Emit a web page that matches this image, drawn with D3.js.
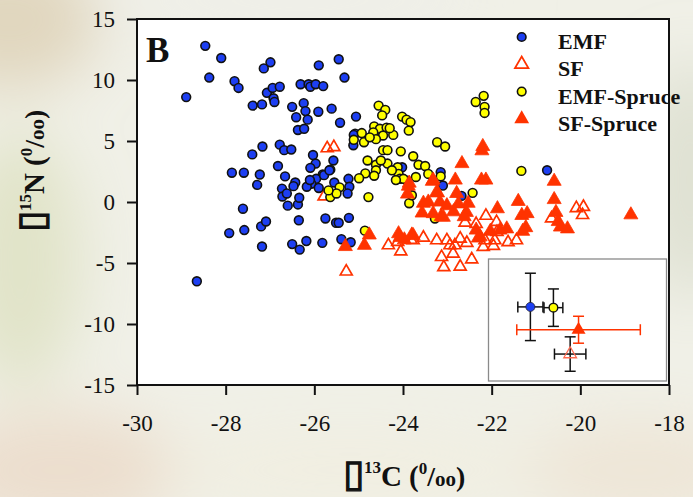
<!DOCTYPE html>
<html>
<head>
<meta charset="utf-8">
<script src="https://cdn.jsdelivr.net/npm/d3@7"></script>
<style>
  html, body { margin: 0; padding: 0; background: #eeeee3; }
  svg { display: block; }
</style>
</head>
<body>
<svg id="chart" width="693" height="497"></svg>
<script>
// Stable isotope signatures of fungal sporocarps: [δ13C, δ15N] in ‰
const emf = [
  [-28.46,12.8],[-28.10,11.8],[-28.37,10.2],[-28.89,8.6],[-27.80,9.9],[-27.71,9.35],
  [-26.99,11.45],[-27.14,10.95],[-25.90,11.2],[-25.45,11.7],[-25.32,10.2],[-27.39,7.9],
  [-27.18,8.0],[-27.07,8.95],[-26.94,9.35],[-26.78,9.45],[-26.92,8.5],[-26.90,8.2],
  [-26.31,9.65],[-26.13,9.65],[-26.09,9.45],[-25.97,9.65],[-25.80,9.5],[-26.50,7.8],
  [-26.24,8.1],[-26.20,7.45],[-26.41,6.95],[-26.15,6.75],[-26.37,5.9],[-26.23,6.0],
  [-25.91,7.4],[-25.61,7.65],[-25.42,6.5],[-25.06,7.0],[-25.08,5.6],[-25.12,4.65],
  [-27.17,4.55],[-27.40,3.9],[-26.78,4.7],[-26.68,4.25],[-26.52,4.3],[-27.86,2.4],
  [-27.59,2.4],[-27.23,2.25],[-27.29,1.4],[-26.82,2.95],[-26.66,2.1],[-26.03,3.85],
  [-25.97,3.15],[-26.09,2.8],[-25.57,3.4],[-25.64,2.65],[-25.81,2.25],[-25.96,1.9],
  [-26.07,1.5],[-26.17,1.25],[-26.43,1.6],[-26.47,1.3],[-26.73,1.1],[-25.55,1.6],
  [-25.23,1.9],[-25.21,1.25],[-25.25,0.7],[-26.72,0.45],[-26.62,0.7],[-26.60,-0.3],
  [-26.37,-0.2],[-26.34,0.35],[-27.61,-0.55],[-27.92,-2.55],[-27.58,-2.3],[-27.20,-2.0],
  [-27.09,-1.6],[-27.18,-3.65],[-28.65,-6.5],[-26.35,-1.5],[-26.50,-3.45],[-26.33,-3.9],
  [-26.18,-3.2],[-25.82,-3.35],[-25.75,-1.35],[-25.51,-1.7],[-25.45,-1.7],[-25.22,-1.3],
  [-25.39,-3.05],[-25.18,-3.3],[-25.11,5.5],[-24.02,2.85],[-23.15,2.45],[-23.10,1.35],
  [-20.75,2.6],[-22.68,0.5],[-25.78,2.2],[-25.66,2.6],[-26.10,1.8],[-25.90,1.15]
];
const sf = [
  [-25.71,4.4],[-25.56,4.5],[-25.78,0.45],[-25.28,-5.7],[-24.33,-3.55],[-24.05,-4.05],
  [-23.82,-3.1],[-23.54,-2.92],[-23.24,-3.14],[-23.01,-3.14],[-22.94,-3.55],[-22.83,-3.55],
  [-23.13,-4.51],[-23.08,-5.35],[-22.87,-4.23],[-22.71,-5.3],[-22.45,-4.7],[-22.71,-3.0],
  [-22.56,-3.35],[-22.60,-1.7],[-22.13,-1.13],[-21.89,-1.64],[-21.88,-2.46],[-22.15,-3.14],
  [-21.93,-3.14],[-22.19,-3.69],[-21.96,-3.6],[-21.63,-3.3],[-21.44,-3.14],[-20.65,-1.35],
  [-20.09,-0.5],[-19.93,-0.4],[-19.95,-1.07],[-23.77,-3.14],[-24.12,-3.28],[-22.35,-1.8]
];
const emfSpruce = [
  [-24.55,7.9],[-24.40,7.55],[-24.47,7.1],[-24.02,7.0],[-23.92,6.75],[-23.83,6.55],
  [-23.87,5.85],[-24.65,6.2],[-24.52,6.0],[-24.37,6.1],[-24.45,5.45],[-24.67,5.7],
  [-24.93,5.65],[-25.11,5.1],[-24.88,4.9],[-24.61,5.15],[-24.22,5.5],[-24.45,4.25],
  [-24.35,4.25],[-24.05,4.15],[-23.77,3.75],[-23.65,3.05],[-23.50,2.95],[-24.80,3.4],
  [-24.61,3.05],[-24.35,3.15],[-24.61,2.6],[-24.85,2.35],[-24.65,2.15],[-24.12,2.85],
  [-24.10,2.3],[-24.99,1.95],[-24.07,1.9],[-23.91,1.75],[-23.71,2.05],[-23.43,2.3],
  [-23.23,4.9],[-23.05,4.55],[-25.43,1.2],[-25.64,0.4],[-25.50,0.7],[-25.68,0.95],
  [-24.78,0.4],[-22.36,8.2],[-22.18,8.7],[-22.16,7.8],[-22.16,7.3],[-21.33,2.55],
  [-22.43,0.75],[-23.86,-0.1],[-23.80,0.55],[-23.28,-1.35],[-24.86,-2.35],[-23.15,2.1],
  [-23.99,1.9],[-24.16,1.8],[-24.30,6.05],[-24.75,5.3],[-24.50,3.4],[-24.25,2.6]
];
const sfSpruce = [
  [-25.30,-3.65],[-24.87,-3.55],[-24.76,-2.7],[-24.10,-2.6],[-23.80,-2.7],[-23.97,-3.1],
  [-24.07,-2.9],[-23.88,1.3],[-23.90,0.65],[-23.54,-0.1],[-23.57,-0.9],[-23.34,1.7],
  [-23.22,0.75],[-23.17,0.0],[-23.14,-1.2],[-23.01,-0.3],[-22.82,1.8],[-22.67,3.15],
  [-22.79,0.7],[-22.53,-0.1],[-22.57,-0.85],[-22.22,4.2],[-22.20,4.55],[-22.23,1.8],
  [-22.13,1.8],[-22.35,-2.3],[-22.30,-2.95],[-22.03,-2.4],[-21.87,-0.55],[-21.66,-2.2],
  [-21.40,0.05],[-21.32,-1.1],[-21.20,-0.95],[-21.23,-2.1],[-21.30,-2.4],[-20.59,1.7],
  [-20.59,0.2],[-20.55,-0.85],[-20.50,-1.6],[-20.45,-2.05],[-20.29,-2.2],[-18.86,-1.05],
  [-23.43,0.0],[-23.32,-0.95],[-22.86,-0.8],[-22.62,-1.2],[-23.09,-1.25],[-22.75,-0.15],
  [-23.24,0.8],[-23.32,1.8],[-23.86,1.55],[-23.77,-2.75],[-21.81,-2.3],[-22.26,-2.85]
];

const xTicks = [-30, -28, -26, -24, -22, -20, -18];
const yTicks = [-15, -10, -5, 0, 5, 10, 15];
const legendNames = ["EMF", "SF", "EMF-Spruce", "SF-Spruce"];

// Group means ± SD for the inset panel
const meanNames = ["EMF", "EMF-Spruce", "SF-Spruce", "SF"];
const meanD13C  = [-26.4, -24.2, -21.8, -22.6];
const sdD13C    = [1.2, 0.9, 5.9, 1.5];
const meanD15N  = [3.6, 3.5, 0.55, -2.7];
const sdD15N    = [4.5, 2.5, 1.8, 2.3];

const BLUE = "#1d3ff2", YELLOW = "#ffff00", RED = "#ff3300";
const SERIF = "'Liberation Serif', 'Times New Roman', serif";

const svg = d3.select("#chart");

// soft photographic backdrop
const defs = svg.append("defs");
defs.append("filter").attr("id", "soft")
  .attr("x", "-50%").attr("y", "-50%").attr("width", "200%").attr("height", "200%")
  .append("feGaussianBlur").attr("stdDeviation", 30);
svg.append("rect").attr("width", 693).attr("height", 497).attr("fill", "#f0f0e7");
const bg = svg.append("g").attr("filter", "url(#soft)");
[
  [10, 20, 90, 70, "rgba(210,190,150,0.5)"],
  [20, 260, 60, 130, "rgba(210,215,170,0.5)"],
  [60, 470, 120, 60, "rgba(230,200,175,0.45)"],
  [690, 180, 50, 120, "rgba(205,210,190,0.5)"],
  [640, 470, 120, 50, "rgba(235,215,190,0.4)"],
  [300, 0, 200, 30, "rgba(238,238,234,0.6)"],
  [350, 470, 200, 40, "rgba(242,238,220,0.5)"]
].forEach(([cx, cy, rx, ry, c]) => {
  bg.append("ellipse").attr("cx", cx).attr("cy", cy).attr("rx", rx).attr("ry", ry).attr("fill", c);
});

const x = d3.scaleLinear().domain([-30, -18]).range([137, 669]);
const y = d3.scaleLinear().domain([-15, 15]).range([385, 19]);

// plot area
svg.append("rect")
  .attr("x", x(-30)).attr("y", y(15))
  .attr("width", x(-18) - x(-30)).attr("height", y(-15) - y(15))
  .attr("fill", "#ffffff");

// axes
const xAxis = svg.append("g").attr("transform", `translate(0,${y(-15)})`)
  .call(d3.axisBottom(x).tickValues(xTicks).tickSize(10).tickSizeOuter(0).tickPadding(20)
    .tickFormat(d3.format("d")));
const yAxis = svg.append("g").attr("transform", `translate(${x(-30)},0)`)
  .call(d3.axisLeft(y).tickValues(yTicks).tickSize(10).tickSizeOuter(0).tickPadding(12)
    .tickFormat(d3.format("d")));
[xAxis, yAxis].forEach(a => {
  a.select(".domain").remove();
  a.selectAll(".tick line").attr("stroke", "#111").attr("stroke-width", 2);
  a.selectAll(".tick text").attr("font-family", SERIF).attr("font-size", 23).attr("fill", "#111");
});
xAxis.selectAll(".tick text").text(d => d < 0 ? "-" + Math.abs(d) : d);
yAxis.selectAll(".tick text").text(d => d < 0 ? "-" + Math.abs(d) : d);

const tri = d3.symbol().type(d3.symbolTriangle);

// data points
const gPts = svg.append("g");
gPts.selectAll("path.sf").data(sf).enter().append("path")
  .attr("d", tri.size(62)())
  .attr("transform", d => `translate(${x(d[0])},${y(d[1])})`)
  .attr("fill", "none").attr("stroke", RED).attr("stroke-width", 1.7);
gPts.selectAll("circle.emf").data(emf).enter().append("circle")
  .attr("cx", d => x(d[0])).attr("cy", d => y(d[1])).attr("r", 4.4)
  .attr("fill", BLUE).attr("stroke", "#111").attr("stroke-width", 1.6);
gPts.selectAll("circle.emfs").data(emfSpruce).enter().append("circle")
  .attr("cx", d => x(d[0])).attr("cy", d => y(d[1])).attr("r", 4.4)
  .attr("fill", YELLOW).attr("stroke", "#111").attr("stroke-width", 1.6);
gPts.selectAll("path.sfs").data(sfSpruce).enter().append("path")
  .attr("d", tri.size(85)())
  .attr("transform", d => `translate(${x(d[0])},${y(d[1])})`)
  .attr("fill", RED).attr("stroke", RED).attr("stroke-width", 0.8);

// panel letter
svg.append("text").attr("x", 146).attr("y", 61.5)
  .attr("font-family", SERIF).attr("font-weight", "bold").attr("font-size", 35)
  .attr("fill", "#111").text("B");

// legend
const leg = svg.append("g");
legendNames.forEach((name, i) => {
  const by = 49 + i * 27.3;
  const my = by - 12;
  if (name === "EMF" || name === "EMF-Spruce") {
    leg.append("circle").attr("cx", 521.7).attr("cy", my).attr("r", 4.3)
      .attr("fill", name === "EMF" ? BLUE : YELLOW).attr("stroke", "#111").attr("stroke-width", 1.6);
  } else if (name === "SF") {
    leg.append("path").attr("d", tri.size(80)()).attr("transform", `translate(521.7,${my})`)
      .attr("fill", "none").attr("stroke", RED).attr("stroke-width", 1.7);
  } else {
    leg.append("path").attr("d", tri.size(95)()).attr("transform", `translate(521.7,${my})`)
      .attr("fill", RED);
  }
  leg.append("text").attr("x", 558).attr("y", by)
    .attr("font-family", SERIF).attr("font-weight", "bold").attr("font-size", 22)
    .attr("fill", "#111").text(name);
});

// frame
svg.append("rect")
  .attr("x", x(-30)).attr("y", y(15))
  .attr("width", x(-18) - x(-30)).attr("height", y(-15) - y(15))
  .attr("fill", "none").attr("stroke", "#111").attr("stroke-width", 2);

// inset: means ± SD
const ix = d3.scaleLinear().domain([-30.4, -13.4]).range([488.5, 666.5]);
const iy = d3.scaleLinear().domain([-6.3, 10]).range([381, 259]);
svg.append("rect").attr("x", 488.5).attr("y", 259).attr("width", 178).attr("height", 122)
  .attr("fill", "#ffffff").attr("stroke", "#8a8a8a").attr("stroke-width", 1.3);
const gIn = svg.append("g");
const cap = 5.5;
meanNames.forEach((name, i) => {
  const cx = ix(meanD13C[i]), cy = iy(meanD15N[i]);
  const col = name === "SF-Spruce" ? RED : "#111";
  const x0 = ix(meanD13C[i] - sdD13C[i]), x1 = ix(meanD13C[i] + sdD13C[i]);
  const y0 = iy(meanD15N[i] - sdD15N[i]), y1 = iy(meanD15N[i] + sdD15N[i]);
  const segs = [
    [x0, cy, x1, cy], [x0, cy - cap, x0, cy + cap], [x1, cy - cap, x1, cy + cap],
    [cx, y0, cx, y1], [cx - cap, y0, cx + cap, y0], [cx - cap, y1, cx + cap, y1]
  ];
  segs.forEach(s => gIn.append("line")
    .attr("x1", s[0]).attr("y1", s[1]).attr("x2", s[2]).attr("y2", s[3])
    .attr("stroke", col).attr("stroke-width", 1.5));
});
meanNames.forEach((name, i) => {
  const cx = ix(meanD13C[i]), cy = iy(meanD15N[i]);
  if (name === "EMF") {
    gIn.append("circle").attr("cx", cx).attr("cy", cy).attr("r", 4.5)
      .attr("fill", BLUE).attr("stroke", "#223").attr("stroke-width", 0.8);
  } else if (name === "EMF-Spruce") {
    gIn.append("circle").attr("cx", cx).attr("cy", cy).attr("r", 4.3)
      .attr("fill", YELLOW).attr("stroke", "#111").attr("stroke-width", 1.4);
  } else if (name === "SF-Spruce") {
    gIn.append("path").attr("d", tri.size(85)()).attr("transform", `translate(${cx},${cy})`)
      .attr("fill", RED);
  } else {
    gIn.append("path").attr("d", tri.size(70)()).attr("transform", `translate(${cx},${cy})`)
      .attr("fill", "none").attr("stroke", "#ff6a50").attr("stroke-width", 1.3);
  }
});

// axis titles (the delta sign shows as a missing-glyph box)
function axisTitle(sel, mass, element) {
  sel.append("tspan").attr("font-family", "'DejaVu Sans', sans-serif").attr("font-weight", "bold")
    .attr("font-size", 38).attr("stroke", "#111").attr("stroke-width", 1.4).text("\u25AF");
  sel.append("tspan").attr("font-size", 17).attr("dy", -13).text(mass);
  sel.append("tspan").attr("font-size", 29).attr("dy", 13).text(element + " (");
  sel.append("tspan").attr("font-size", 17).attr("dy", -12).text("0");
  sel.append("tspan").attr("font-size", 28).attr("dy", 12).text("/");
  sel.append("tspan").attr("font-size", 21).text("oo");
  sel.append("tspan").attr("font-size", 28).text(")");
}
const xt = svg.append("text").attr("x", 343).attr("y", 486)
  .attr("font-family", SERIF).attr("font-weight", "bold").attr("font-size", 28).attr("fill", "#111");
axisTitle(xt, "13", "C");
const yt = svg.append("text").attr("transform", "translate(43.5,232) rotate(-90)")
  .attr("font-family", SERIF).attr("font-weight", "bold").attr("font-size", 28).attr("fill", "#111");
axisTitle(yt, "15", "N");
</script>
</body>
</html>
